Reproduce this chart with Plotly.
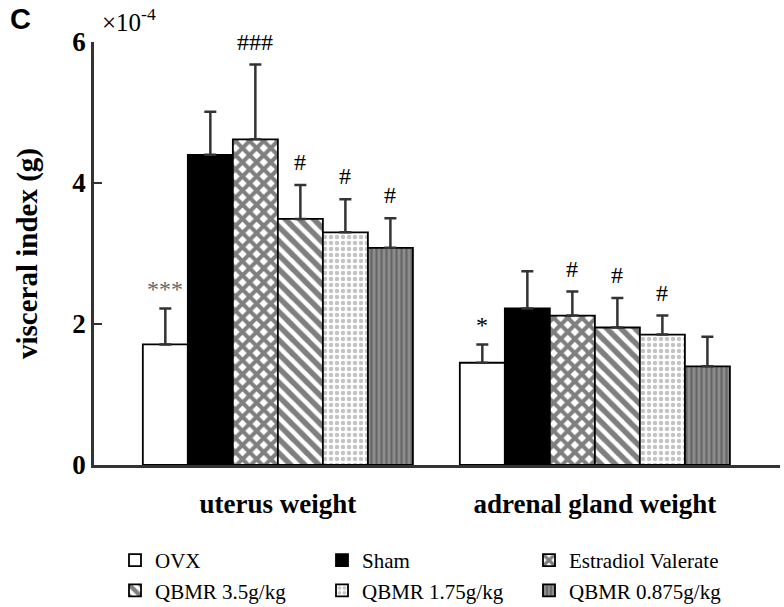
import plotly.graph_objects as go

categories = ["uterus weight", "adrenal gland weight"]
groups = ["OVX", "Sham", "Estradiol Valerate", "QBMR 3.5g/kg", "QBMR 1.75g/kg", "QBMR 0.875g/kg"]
means = {
    "OVX": [1.71, 1.45],
    "Sham": [4.40, 2.22],
    "Estradiol Valerate": [4.62, 2.12],
    "QBMR 3.5g/kg": [3.49, 1.95],
    "QBMR 1.75g/kg": [3.30, 1.85],
    "QBMR 0.875g/kg": [3.08, 1.40],
}
errors = {
    "OVX": [0.51, 0.26],
    "Sham": [0.61, 0.53],
    "Estradiol Valerate": [1.06, 0.34],
    "QBMR 3.5g/kg": [0.48, 0.42],
    "QBMR 1.75g/kg": [0.47, 0.27],
    "QBMR 0.875g/kg": [0.42, 0.42],
}
signif = {
    "OVX": ["***", "*"],
    "Sham": ["", ""],
    "Estradiol Valerate": ["###", "#"],
    "QBMR 3.5g/kg": ["#", "#"],
    "QBMR 1.75g/kg": ["#", "#"],
    "QBMR 0.875g/kg": ["#", ""],
}
y_ticks = [0, 2, 4, 6]

styles = {
    "OVX": dict(color="white", pattern=dict(shape="")),
    "Sham": dict(color="black", pattern=dict(shape="")),
    "Estradiol Valerate": dict(color="white", pattern=dict(shape="x", fgcolor="black", bgcolor="white", size=10, solidity=0.65)),
    "QBMR 3.5g/kg": dict(color="white", pattern=dict(shape="\\", fgcolor="black", bgcolor="white", size=10, solidity=0.55)),
    "QBMR 1.75g/kg": dict(color="white", pattern=dict(shape=".", fgcolor="#8a8a8a", bgcolor="white", size=6, solidity=0.45)),
    "QBMR 0.875g/kg": dict(color="#8c8c8c", pattern=dict(shape="|", fgcolor="#3c3c3c", bgcolor="#8c8c8c", size=5, solidity=0.4)),
}

serif = "Liberation Serif"
bargap = 0.148
x_idx = list(range(len(categories)))

# plot area in pixels (layout only)
L, R, T, B = 94, 4, 42, 142
W, H = 784, 607
pw, ph = W - L - R, H - T - B

def px_x(px):
    return (px - L) / pw

def px_y(py):
    return (H - B - py) / ph

fig = go.Figure()
for g in groups:
    st = styles[g]
    fig.add_trace(go.Bar(
        name=g, x=x_idx, y=means[g],
        marker=dict(color=st["color"], pattern=st["pattern"],
                    line=dict(color="black", width=1.8)),
        error_y=dict(type="data", symmetric=False, array=errors[g],
                     arrayminus=[0] * len(categories),
                     color="#333333", thickness=2.5, width=6),
    ))

n = len(groups)
bw = (1 - bargap) / n
annotations = []
for k, g in enumerate(groups):
    for i in x_idx:
        s = signif[g][i]
        if not s:
            continue
        xpos = i - (1 - bargap) / 2 + (k + 0.5) * bw
        annotations.append(dict(
            x=xpos, y=means[g][i] + errors[g][i], xref="x", yref="y",
            text=s, showarrow=False, yanchor="bottom",
            yshift=4 if s.startswith("*") else 8,
            font=dict(family=serif, size=24,
                      color="#666666" if (s == "***") else "black"),
        ))

annotations.append(dict(text="<b>C</b>", x=px_x(20), y=px_y(19), xref="paper", yref="paper",
                        xanchor="center", yanchor="middle", showarrow=False,
                        font=dict(family="Liberation Sans", size=29, color="black")))
annotations.append(dict(text="×10<sup>-4</sup>", x=px_x(100), y=px_y(2), xref="paper", yref="paper",
                        xanchor="left", yanchor="top", showarrow=False,
                        font=dict(family=serif, size=25, color="black")))

fig.update_layout(
    width=W, height=H,
    margin=dict(l=L, r=R, t=T, b=B, autoexpand=False),
    paper_bgcolor="white", plot_bgcolor="white",
    barmode="group", bargap=bargap, bargroupgap=0,
    showlegend=True,
    legend=dict(orientation="h", xref="container", yref="container",
                x=115 / W, y=(H - 540) / H, xanchor="left", yanchor="top",
                entrywidth=162, entrywidthmode="pixels",
                font=dict(family=serif, size=21, color="black"),
                traceorder="normal", itemclick=False, tracegroupgap=0),
    annotations=annotations,
    xaxis=dict(range=[-0.58, 1.584], tickvals=x_idx, ticktext=["<b>%s</b>" % c for c in categories],
               showline=True, linecolor="#333333", linewidth=2.5,
               ticks="outside", ticklen=13, tickcolor="rgba(0,0,0,0)",
               showgrid=False, zeroline=False,
               tickfont=dict(family=serif, size=27, color="black")),
    yaxis=dict(range=[0, 6], tickvals=y_ticks, ticktext=["<b>%d</b>" % v for v in y_ticks],
               showline=True, linecolor="#333333", linewidth=2.5,
               ticks="inside", ticklen=8, tickwidth=2, tickcolor="#333333",
               showgrid=False, zeroline=False,
               tickfont=dict(family=serif, size=27, color="black"),
               title=dict(text="<b>visceral index (g)</b>", standoff=27,
                          font=dict(family=serif, size=29, color="black"))),
)

fig.write_html("out.html", config={"displayModeBar": False},
               post_script="document.body.style.margin='0';")
